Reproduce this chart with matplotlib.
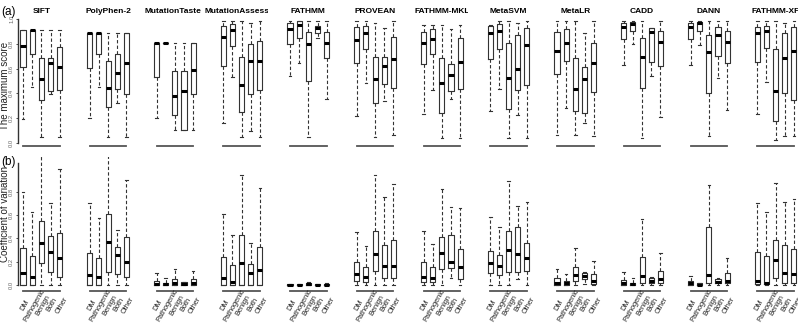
import matplotlib
matplotlib.use("Agg")
import matplotlib.pyplot as plt
from matplotlib.transforms import Bbox, TransformedBbox

plt.rcParams['font.family'] = ['Liberation Sans', 'DejaVu Sans']

methods = ["SIFT", "PolyPhen-2", "MutationTaster", "MutationAssessor", "FATHMM",
           "PROVEAN", "FATHMM-MKL", "MetaSVM", "MetaLR", "CADD", "DANN", "FATHMM-XF"]
groups = ["DM", "Pathogenic", "Benign", "Both", "Other"]

# (whisker low, Q1, median, Q3, whisker high) for each group, one row per method
max_score = [
    [(0.19, 0.616, 0.782, 0.911, 0.911), (0.454, 0.718, 0.911, 0.911, 0.911), (0.05, 0.347, 0.513, 0.683, 0.911), (0.392, 0.419, 0.648, 0.683, 0.911), (0.05, 0.427, 0.616, 0.777, 0.911)],
    [(0.199, 0.607, 0.89, 0.89, 0.89), (0.454, 0.715, 0.89, 0.89, 0.89), (0.05, 0.293, 0.441, 0.664, 0.89), (0.32, 0.435, 0.567, 0.715, 0.89), (0.05, 0.392, 0.648, 0.89, 0.89)],
    [(0.199, 0.535, 0.804, 0.804, 0.804), (0.804, 0.804, 0.804, 0.804, 0.804), (0.105, 0.226, 0.379, 0.583, 0.804), (0.105, 0.105, 0.422, 0.583, 0.804), (0.105, 0.392, 0.589, 0.804, 0.804)],
    [(0.164, 0.624, 0.852, 0.944, 0.987), (0.53, 0.785, 0.911, 0.96, 0.987), (0.046, 0.253, 0.468, 0.691, 0.987), (0.1, 0.392, 0.661, 0.796, 0.965), (0.046, 0.427, 0.661, 0.825, 0.987)],
    [(0.54, 0.798, 0.917, 0.97, 0.987), (0.648, 0.849, 0.952, 0.985, 0.987), (0.051, 0.5, 0.798, 0.898, 0.987), (0.844, 0.884, 0.925, 0.944, 0.987), (0.352, 0.683, 0.804, 0.898, 0.987)],
    [(0.218, 0.648, 0.831, 0.933, 0.987), (0.487, 0.755, 0.89, 0.946, 0.987), (0.051, 0.32, 0.513, 0.691, 0.97), (0.341, 0.476, 0.624, 0.696, 0.925), (0.065, 0.441, 0.675, 0.858, 0.987)],
    [(0.231, 0.634, 0.809, 0.898, 0.952), (0.427, 0.718, 0.836, 0.917, 0.952), (0.038, 0.239, 0.481, 0.683, 0.952), (0.352, 0.419, 0.548, 0.634, 0.919), (0.038, 0.433, 0.651, 0.844, 0.952)],
    [(0.258, 0.675, 0.884, 0.944, 0.952), (0.435, 0.755, 0.906, 0.96, 0.987), (0.043, 0.274, 0.522, 0.809, 0.987), (0.226, 0.427, 0.594, 0.871, 0.97), (0.043, 0.468, 0.79, 0.925, 0.987)],
    [(0.065, 0.556, 0.742, 0.892, 0.987), (0.285, 0.661, 0.804, 0.917, 0.987), (0.065, 0.258, 0.433, 0.688, 0.987), (0.164, 0.239, 0.516, 0.616, 0.884), (0.056, 0.414, 0.648, 0.809, 0.987)],
    [(0.629, 0.836, 0.938, 0.965, 0.987), (0.798, 0.906, 0.96, 0.978, 0.987), (0.043, 0.441, 0.691, 0.844, 0.987), (0.54, 0.651, 0.892, 0.925, 0.925), (0.207, 0.624, 0.817, 0.906, 0.987)],
    [(0.629, 0.836, 0.938, 0.97, 0.987), (0.79, 0.903, 0.965, 0.978, 0.987), (0.056, 0.406, 0.737, 0.871, 0.987), (0.522, 0.702, 0.871, 0.933, 0.987), (0.266, 0.642, 0.817, 0.906, 0.987)],
    [(0.231, 0.656, 0.89, 0.938, 0.987), (0.495, 0.763, 0.906, 0.946, 0.987), (0.024, 0.177, 0.422, 0.755, 0.987), (0.056, 0.401, 0.683, 0.89, 0.97), (0.056, 0.347, 0.745, 0.938, 0.987)],
]

coef_var = [
    [(0, 0, 0.106, 0.32, 0.8), (0, 0, 0.071, 0.249, 0.629), (0, 0.186, 0.363, 0.551, 1.12), (0, 0.114, 0.286, 0.42, 0.7), (0, 0.066, 0.234, 0.443, 0.994)],
    [(0, 0, 0.086, 0.277, 0.7), (0, 0, 0.071, 0.229, 0.571), (0, 0.114, 0.366, 0.606, 1.12), (0, 0.091, 0.257, 0.329, 0.471), (0, 0.066, 0.2, 0.409, 0.9)],
    [(0, 0, 0.009, 0.037, 0.1), (0, 0, 0.006, 0.02, 0.057), (0, 0, 0.02, 0.049, 0.137), (0, 0, 0.006, 0.029, 0.029), (0, 0, 0.02, 0.049, 0.123)],
    [(0, 0, 0.063, 0.237, 0.606), (0, 0, 0.029, 0.171, 0.429), (0, 0, 0.191, 0.429, 0.943), (0, 0, 0.1, 0.18, 0.357), (0, 0, 0.129, 0.329, 0.829)],
    [(0, 0, 0.004, 0.008, 0.012), (0, 0, 0.004, 0.008, 0.012), (0, 0, 0.006, 0.014, 0.029), (0, 0, 0.004, 0.008, 0.012), (0, 0, 0.004, 0.01, 0.02)],
    [(0, 0.034, 0.091, 0.2, 0.457), (0, 0.023, 0.071, 0.157, 0.334), (0, 0.123, 0.266, 0.463, 0.943), (0, 0.057, 0.163, 0.343, 0.757), (0, 0.063, 0.163, 0.386, 0.866)],
    [(0, 0.029, 0.071, 0.2, 0.463), (0, 0.023, 0.063, 0.151, 0.349), (0, 0.137, 0.277, 0.409, 0.82), (0.057, 0.143, 0.2, 0.429, 0.671), (0, 0.049, 0.157, 0.306, 0.657)],
    [(0, 0.1, 0.186, 0.294, 0.586), (0, 0.086, 0.163, 0.257, 0.494), (0, 0.114, 0.3, 0.463, 0.894), (0.049, 0.114, 0.263, 0.494, 0.677), (0, 0.123, 0.229, 0.357, 0.709)],
    [(0, 0, 0.02, 0.057, 0.137), (0, 0, 0.014, 0.037, 0.091), (0, 0.034, 0.086, 0.151, 0.32), (0.009, 0.049, 0.08, 0.106, 0.114), (0, 0.009, 0.037, 0.091, 0.206)],
    [(0, 0, 0.014, 0.043, 0.109), (0, 0, 0.006, 0.02, 0.057), (0, 0.02, 0.08, 0.237, 0.563), (0, 0.014, 0.034, 0.063, 0.071), (0, 0.014, 0.049, 0.123, 0.277)],
    [(0, 0, 0.014, 0.034, 0.08), (0, 0, 0.004, 0.014, 0.02), (0, 0.02, 0.086, 0.494, 0.857), (0, 0.014, 0.029, 0.051, 0.057), (0, 0.014, 0.034, 0.1, 0.229)],
    [(0, 0.006, 0.034, 0.286, 0.7), (0, 0.006, 0.02, 0.251, 0.629), (0, 0.057, 0.214, 0.386, 0.877), (0, 0.014, 0.1, 0.343, 0.714), (0, 0.014, 0.094, 0.306, 0.734)],
]

W, H = 798, 324
fig = plt.figure(figsize=(W / 100, H / 100), dpi=100)

pitch = 66.75      # px between panels
unit = 9.17        # px per box
first_box = 23.0
xlo, xhi = 0.45, 5.55

# rows: (stats, ylim, top px, bottom px)
rows = [
    (max_score, (-0.022, 1.03), 15.3, 145.7),
    (coef_var, (-0.049, 1.10), 156.6, 290.7),
]

for r, (stats, ylim, top_px, bot_px) in enumerate(rows):
    for i, name in enumerate(methods):
        left_px = first_box + pitch * i - (1 - xlo) * unit
        w_px = (xhi - xlo) * unit
        ax = fig.add_axes([left_px / W, 1 - bot_px / H, w_px / W, (bot_px - top_px) / H])
        bx = [dict(whislo=s[0], q1=s[1], med=s[2], q3=s[3], whishi=s[4], fliers=[])
              for s in stats[i]]
        ax.bxp(bx, positions=range(1, 6), widths=0.55, capwidths=0.28,
               showfliers=False, patch_artist=False,
               boxprops=dict(color='#333333', lw=0.8),
               medianprops=dict(color='black', lw=2.2, solid_capstyle='butt'),
               whiskerprops=dict(color='#333333', lw=0.8, linestyle=(0, (3, 2))),
               capprops=dict(color='#333333', lw=0.8))
        ax.set_xlim(xlo, xhi)
        ax.set_ylim(*ylim)
        ax.patch.set_visible(False)
        for sp in ['top', 'right']:
            ax.spines[sp].set_visible(False)
        ax.spines['bottom'].set_bounds(1, 5)
        ax.spines['bottom'].set_color('#555555')
        ax.spines['bottom'].set_linewidth(1.3)
        ax.set_xticks([])
        if r == 0:
            # title clipped to the panel's figure region like in R
            t = fig.text((first_box + pitch * i + 2 * unit) / W, 1 - 11.5 / H, name,
                         ha='center', va='center', fontsize=6.0, fontweight='bold')
            reg = Bbox([[(pitch * i + 1) / W, 0.9], [(pitch * (i + 1) + 1) / W, 1.0]])
            t.set_clip_box(TransformedBbox(reg, fig.transFigure))
            t.set_clip_on(True)
        else:
            off = -14.5 / (bot_px - top_px)
            for k, g in enumerate(groups):
                ax.text(k + 1.2, off, g, transform=ax.get_xaxis_transform(),
                        rotation=60, ha='center', va='center', rotation_mode='anchor',
                        fontsize=5.3, color='#222222')
        if i == 0:
            ax.spines['left'].set_color('#333333')
            ax.spines['left'].set_linewidth(1.0)
            if r == 0:
                ax.spines['left'].set_bounds(0, 1.0)
                ax.set_yticks([0, 0.2, 0.4, 0.6, 0.8, 1.0])
                ax.set_yticklabels(['0.0', '0.2', '0.4', '0.6', '0.8', '1.0'])
            else:
                ax.spines['left'].set_bounds(0, 1.045)
                ax.set_yticks([0, 0.2, 0.4, 0.6, 0.8])
                ax.set_yticklabels(['0.0', '0.2', '0.4', '0.6', '0.8'])
            for lab in ax.get_yticklabels():
                lab.set_rotation(90)
                lab.set_va('center')
            ax.tick_params(axis='y', length=1.8, width=0.6, pad=1, labelsize=4.2,
                           labelcolor='#666666', color='#333333')
        else:
            ax.spines['left'].set_visible(False)
            ax.set_yticks([])

fig.text(1 / W, 1 - 12 / H, "(a)", fontsize=8.5, va='center', ha='left')
fig.text(1 / W, 1 - 162 / H, "(b)", fontsize=8.5, va='center', ha='left')
fig.text(5.2 / W, 1 - 86 / H, "The maximum score", rotation=90, fontsize=7,
         ha='center', va='center', color='#222222')
fig.text(5.2 / W, 1 - 214 / H, "Coefficient of variation", rotation=90, fontsize=7,
         ha='center', va='center', color='#222222')

fig.savefig("out.png", dpi=100)
